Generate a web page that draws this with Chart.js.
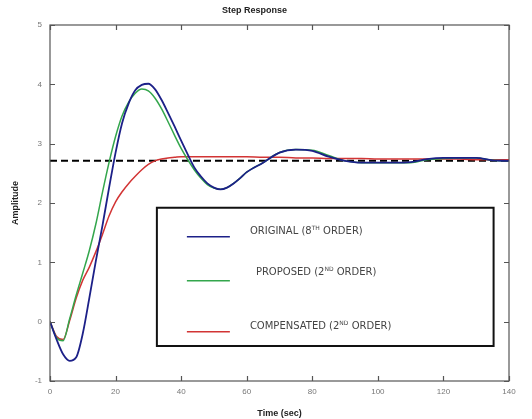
<!DOCTYPE html>
<html>
<head>
<meta charset="utf-8">
<script src="https://cdn.jsdelivr.net/npm/chart.js@4"></script>
<style>
	html, body { margin: 0; padding: 0; background: #fff; }
	#wrap { width: 532px; height: 419px; }
</style>
</head>
<body>
<div id="wrap"><canvas id="stepChart"></canvas></div>
<script>
const ctx = document.getElementById('stepChart');

// time axis (sec): every 2 s up to 60, then every 5 s
const time = [
	0, 2, 4, 6, 8, 10, 12, 14, 16, 18, 20, 22, 24, 26, 28, 30,
	32, 34, 36, 38, 40, 42, 44, 46, 48, 50, 52, 54, 56, 58, 60,
	65, 70, 75, 80, 85, 90, 95, 100, 105, 110, 115, 120, 125, 130, 135, 140,
];

// original 8th order model
const original = [
	0, -0.3, -0.55, -0.66, -0.6, -0.2, 0.4, 1.03, 1.62, 2.25, 2.85, 3.35, 3.68, 3.9, 3.99, 4.01,
	3.92, 3.74, 3.52, 3.29, 3.05, 2.82, 2.6, 2.45, 2.33, 2.26, 2.23, 2.26, 2.33, 2.42, 2.52,
	2.68, 2.85, 2.9, 2.88, 2.78, 2.71, 2.68, 2.68, 2.68, 2.69, 2.74, 2.76, 2.76, 2.76, 2.72, 2.71,
];

// proposed 2nd order model
const proposed = [
	0, -0.27, -0.32, 0.05, 0.45, 0.82, 1.2, 1.65, 2.18, 2.68, 3.12, 3.47, 3.7, 3.85, 3.92, 3.89,
	3.77, 3.59, 3.37, 3.14, 2.92, 2.73, 2.56, 2.42, 2.31, 2.25, 2.23, 2.26, 2.33, 2.42, 2.52,
	2.68, 2.85, 2.9, 2.89, 2.8, 2.71, 2.68, 2.68, 2.68, 2.68, 2.73, 2.75, 2.76, 2.76, 2.72, 2.71,
];

// compensated 2nd order model
const compensated = [
	0, -0.25, -0.3, 0.02, 0.4, 0.7, 0.92, 1.18, 1.47, 1.78, 2.02, 2.19, 2.33, 2.45, 2.56, 2.65,
	2.71, 2.74, 2.76, 2.77, 2.78, 2.78, 2.78, 2.78, 2.78, 2.78, 2.78, 2.78, 2.78, 2.78, 2.78,
	2.77, 2.77, 2.76, 2.76, 2.75, 2.75, 2.75, 2.74, 2.74, 2.74, 2.74, 2.74, 2.74, 2.73, 2.73, 2.73,
];

const steadyState = 2.71;

const xTicks = [0, 20, 40, 60, 80, 100, 120, 140];
const yTicks = [-1, 0, 1, 2, 3, 4, 5];

const legendLabels = [
	{ text: 'ORIGINAL (8', sup: 'TH', tail: ' ORDER)', color: '#1c2088' },
	{ text: 'PROPOSED (2', sup: 'ND', tail: ' ORDER)', color: '#33a64c' },
	{ text: 'COMPENSATED (2', sup: 'ND', tail: ' ORDER)', color: '#d23434' },
];

const pts = (ys) => time.map((t, i) => ({ x: t, y: ys[i] }));

// box frame, inward ticks and the legend panel
const matlabFrame = {
	id: 'matlabFrame',
	afterDatasetsDraw(chart) {
		const { ctx: c, chartArea: a, scales } = chart;
		const sx = scales.x, sy = scales.y;
		c.save();
		c.strokeStyle = '#555';
		c.lineWidth = 1.2;
		c.strokeRect(a.left, a.top, a.right - a.left, a.bottom - a.top);
		c.beginPath();
		xTicks.forEach((v) => {
			const px = Math.round(sx.getPixelForValue(v)) + 0.5;
			c.moveTo(px, a.bottom); c.lineTo(px, a.bottom - 5);
			c.moveTo(px, a.top); c.lineTo(px, a.top + 5);
		});
		yTicks.forEach((v) => {
			const py = Math.round(sy.getPixelForValue(v)) + 0.5;
			c.moveTo(a.left, py); c.lineTo(a.left + 5, py);
			c.moveTo(a.right, py); c.lineTo(a.right - 5, py);
		});
		c.stroke();

		// legend panel
		const l = sx.getPixelForValue(32.6), r = sx.getPixelForValue(135.3);
		const t = sy.getPixelForValue(1.92), b = sy.getPixelForValue(-0.41);
		c.fillStyle = '#fff';
		c.fillRect(l, t, r - l, b - t);
		c.strokeStyle = '#111';
		c.lineWidth = 2;
		c.strokeRect(l, t, r - l, b - t);

		const rows = [t + 29, t + 73, t + 124];
		const textShift = [-5, -8, -5];
		const textX = [l + 93, l + 99, l + 93];
		legendLabels.forEach((item, i) => {
			const y = rows[i];
			c.strokeStyle = item.color;
			c.lineWidth = 1.6;
			c.beginPath();
			c.moveTo(l + 30, y);
			c.lineTo(l + 73, y);
			c.stroke();

			let x = textX[i];
			const ty = y + textShift[i];
			c.fillStyle = '#444';
			c.textBaseline = 'middle';
			c.font = '10px "DejaVu Sans", sans-serif';
			c.fillText(item.text, x, ty);
			x += c.measureText(item.text).width;
			c.font = '6px "DejaVu Sans", sans-serif';
			c.fillText(item.sup, x, ty - 3);
			x += c.measureText(item.sup).width;
			c.font = '10px "DejaVu Sans", sans-serif';
			c.fillText(item.tail, x, ty);
		});
		c.restore();
	},
};

new Chart(ctx, {
	type: 'line',
	data: {
		datasets: [
			{
				data: [{ x: time[0], y: steadyState }, { x: time[time.length - 1], y: steadyState }],
				borderColor: '#000',
				borderWidth: 2,
				borderDash: [7, 4],
				order: 4,
			},
			{
				data: pts(compensated),
				borderColor: '#d23434',
				borderWidth: 1.5,
				order: 3,
			},
			{
				data: pts(proposed),
				borderColor: '#33a64c',
				borderWidth: 1.5,
				order: 2,
			},
			{
				data: pts(original),
				borderColor: '#1c2088',
				borderWidth: 1.8,
				order: 1,
			},
		],
	},
	options: {
		responsive: true,
		maintainAspectRatio: false,
		animation: false,
		elements: {
			point: { radius: 0 },
			line: { cubicInterpolationMode: 'monotone', fill: false },
		},
		layout: { padding: { left: 0, right: 23, top: 0, bottom: 0 } },
		plugins: {
			legend: { display: false },
			tooltip: { enabled: false },
			title: {
				display: true,
				text: 'Step Response',
				color: '#222',
				font: { family: 'Liberation Sans', size: 9, weight: 'bold' },
				padding: { top: 5, bottom: 9.2 },
			},
		},
		scales: {
			x: {
				type: 'linear',
				min: 0,
				max: 140,
				afterBuildTicks: (s) => { s.ticks = xTicks.map((v) => ({ value: v })); },
				afterFit: (s) => { s.height = 38; },
				grid: { display: false, drawTicks: false },
				border: { display: false },
				ticks: {
					color: '#777',
					font: { family: 'Liberation Sans', size: 8 },
					padding: 6,
					maxRotation: 0,
				},
				title: {
					display: true,
					text: 'Time (sec)',
					color: '#222',
					font: { family: 'Liberation Sans', size: 9, weight: 'bold' },
					padding: { top: 6, bottom: 0 },
				},
			},
			y: {
				min: -1,
				max: 5,
				afterBuildTicks: (s) => { s.ticks = yTicks.map((v) => ({ value: v })); },
				afterFit: (s) => { s.width = 50; },
				grid: { display: false, drawTicks: false },
				border: { display: false },
				ticks: {
					color: '#777',
					font: { family: 'Liberation Sans', size: 8 },
					padding: 8,
				},
				title: {
					display: true,
					text: 'Amplitude',
					color: '#222',
					font: { family: 'Liberation Sans', size: 9, weight: 'bold' },
					padding: { top: 10, bottom: 0 },
				},
			},
		},
	},
	plugins: [matlabFrame],
});
</script>
</body>
</html>
